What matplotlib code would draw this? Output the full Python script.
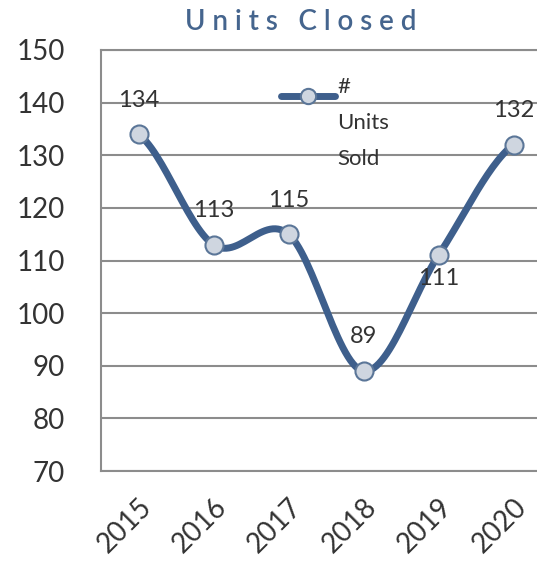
import numpy as np
import matplotlib
matplotlib.use('Agg')
import matplotlib.pyplot as plt

plt.rcParams['font.family'] = ['Lato', 'DejaVu Sans']

# data
years = ['2015', '2016', '2017', '2018', '2019', '2020']
units_sold = [134, 113, 115, 89, 111, 132]
y_ticks = [70, 80, 90, 100, 110, 120, 130, 140, 150]
label_below = [False, False, False, False, True, False]

line_col = '#3e5f8c'
grid_col = '#8c8c8c'
txt_col = '#333333'


def smooth(xs, ys, n=30):
    """Catmull-Rom spline through the points (Excel-like smoothed line)"""
    xs = np.asarray(xs, float)
    ys = np.asarray(ys, float)
    px = np.concatenate([[2 * xs[0] - xs[1]], xs, [2 * xs[-1] - xs[-2]]])
    py = np.concatenate([[ys[0]], ys, [ys[-1]]])
    ox, oy = [], []
    t = np.linspace(0, 1, n)
    for i in range(1, len(px) - 2):
        p0, p1, p2, p3 = [np.array([px[j], py[j]]) for j in (i - 1, i, i + 1, i + 2)]
        c1 = p1 + (p2 - p0) / 6.0
        c2 = p2 - (p3 - p1) / 6.0
        for tt in t:
            b = ((1 - tt) ** 3) * p1 + 3 * ((1 - tt) ** 2) * tt * c1 \
                + 3 * (1 - tt) * tt ** 2 * c2 + tt ** 3 * p2
            ox.append(b[0])
            oy.append(b[1])
    return np.array(ox), np.array(oy)


fig = plt.figure(figsize=(5.37, 5.79), dpi=100)
ax = fig.add_axes([101 / 537, 108 / 579, 450 / 537, 421 / 579])

x = np.arange(len(years))
sx, sy = smooth(x, units_sold)
ax.plot(sx, sy, color=line_col, lw=5, solid_capstyle='round', zorder=3)
ax.plot(x, units_sold, ls='none', marker='o', ms=13, mfc='#cfd6e0',
        mec='#5b7698', mew=1.5, zorder=4)

for xi, v, below in zip(x, units_sold, label_below):
    if below:
        ax.annotate(str(v), (xi, v), xytext=(0, -9), textcoords='offset points',
                    ha='center', va='top', fontsize=17, color=txt_col, zorder=5)
    else:
        ax.annotate(str(v), (xi, v), xytext=(0, 17), textcoords='offset points',
                    ha='center', va='bottom', fontsize=17, color=txt_col, zorder=5)

ax.set_xlim(-0.5, 5.5)
ax.set_ylim(70, 150)
ax.set_yticks(y_ticks)
ax.set_xticks(x)
ax.set_xticklabels(years, rotation=45, ha='right', rotation_mode='anchor')
ax.tick_params(axis='both', length=0, labelsize=20, colors=txt_col)
ax.tick_params(axis='y', pad=26)
ax.tick_params(axis='x', pad=16)
ax.grid(axis='y', color=grid_col, lw=1.5)
ax.set_axisbelow(True)
for s in ['left', 'bottom', 'top']:
    ax.spines[s].set_color(grid_col)
    ax.spines[s].set_linewidth(1.5)
ax.spines['right'].set_visible(False)

# legend drawn by hand
lx = [0.40, 0.52]
ax.plot(lx, [0.89, 0.89], transform=ax.transAxes, color=line_col, lw=5,
        solid_capstyle='round', clip_on=False, zorder=5)
ax.plot([np.mean(lx)], [0.89], transform=ax.transAxes, marker='o', ms=11,
        mfc='#cfd6e0', mec='#5b7698', mew=1.5, clip_on=False, zorder=6)
ax.text(0.525, 0.935, '#\nUnits\nSold', transform=ax.transAxes, ha='left',
        va='top', fontsize=16, color=txt_col, linespacing=2.0, zorder=6)

fig.text(0.56, 0.962, 'U n i t s   C l o s e d', ha='center', va='center',
         fontsize=20, color='#45658e', fontweight='semibold')

fig.savefig('out.png', dpi=100)
